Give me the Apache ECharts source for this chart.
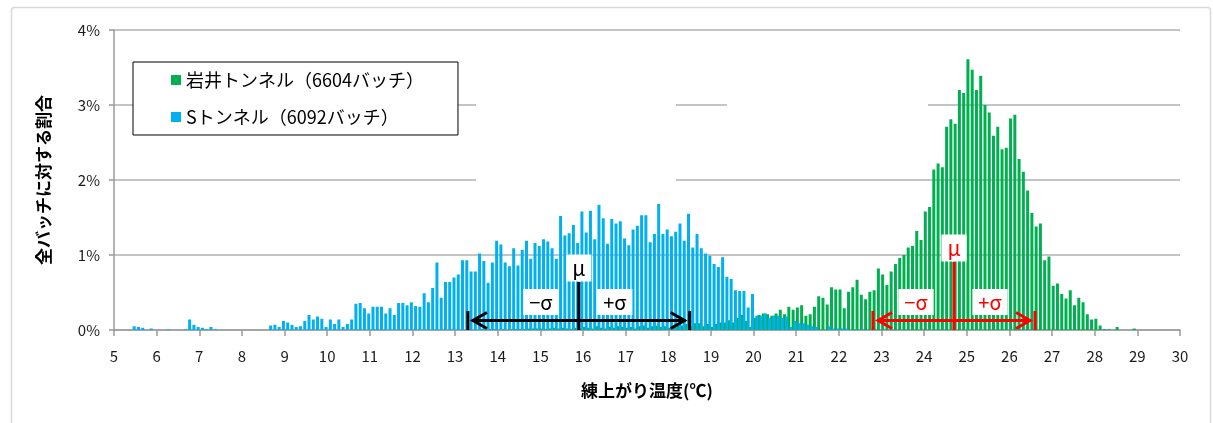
<!DOCTYPE html>
<html>
<head>
<meta charset="utf-8">
<script src="https://cdn.jsdelivr.net/npm/echarts@6/dist/echarts.min.js"></script>
<style>
  html, body { margin: 0; padding: 0; background: #fff; }
  #chart { width: 1213px; height: 423px; }
</style>
</head>
<body>
<div id="chart"></div>
<script>
// Histogram of mixing temperatures, 0.1 °C bins, share of all batches (%)
const sName = 'Sトンネル（6092バッチ）';
const iName = '岩井トンネル（6604バッチ）';

// S tunnel: consecutive 0.1 °C bins starting at 5.5 °C
const sFirstBin = 5.5;
const sShare = [
  0.05, 0.04, 0.03, 0, 0.02, 0, 0, 0, 0.01, 0,          // 5.5 - 6.4
  0, 0, 0.01, 0.14, 0.07, 0.04, 0.03, 0.01, 0.04, 0.01, // 6.5 - 7.4
  0, 0, 0, 0, 0, 0, 0, 0, 0, 0,                          // 7.5 - 8.4
  0, 0, 0.06, 0.07, 0.04, 0.12, 0.10, 0.07, 0.04, 0.05, // 8.5 - 9.4
  0.12, 0.20, 0.14, 0.18, 0.15, 0.04, 0.14, 0.08, 0.14, 0.04, // 9.5 - 10.4
  0.08, 0.14, 0.35, 0.36, 0.29, 0.22, 0.31, 0.31, 0.31, 0.22, // 10.5 - 11.4
  0.29, 0.20, 0.36, 0.36, 0.33, 0.37, 0.32, 0.31, 0.49, 0.37, // 11.5 - 12.4
  0.56, 0.90, 0.43, 0.64, 0.64, 0.70, 0.74, 0.93, 0.93, 0.78, // 12.5 - 13.4
  0.78, 1.02, 0.92, 0.63, 0.90, 1.19, 1.14, 0.90, 0.85, 1.09, // 13.5 - 14.4
  0.86, 1.07, 1.19, 0.95, 1.16, 1.12, 1.21, 1.18, 1.09, 0.95, // 14.5 - 15.4
  1.52, 1.26, 1.29, 1.40, 1.16, 1.58, 1.30, 1.59, 1.21, 1.67, // 15.5 - 16.4
  1.49, 1.15, 1.48, 1.42, 1.45, 1.22, 1.13, 1.34, 1.39, 1.53, // 16.5 - 17.4
  1.53, 1.17, 1.28, 1.68, 1.28, 1.34, 1.25, 1.31, 1.42, 1.19, // 17.5 - 18.4
  1.55, 1.10, 1.28, 1.09, 1.02, 0.99, 0.88, 0.84, 0.97, 0.71, // 18.5 - 19.4
  0.68, 0.53, 0.52, 0.52, 0.30, 0.48, 0.19, 0.19, 0.22, 0.16, // 19.5 - 20.4
  0.19, 0.19, 0.16, 0.18, 0.04, 0.12, 0.09, 0.09, 0.07, 0.05, // 20.5 - 21.4
  0.04, 0, 0, 0.05, 0.02, 0.02, 0.02, 0.02, 0, 0.01,          // 21.5 - 22.4
  0, 0.01                                                     // 22.5 - 22.6
];

// Iwai tunnel: consecutive 0.1 °C bins starting at 13.5 °C
const iFirstBin = 13.5;
const iShare = [
  0, 0.01, 0, 0.01, 0.01, 0, 0.01, 0, 0.01, 0.01,             // 13.5 - 14.4
  0.01, 0.01, 0.02, 0.02, 0.02, 0.02, 0.01, 0.02, 0.03, 0.02, // 14.5 - 15.4
  0.03, 0.02, 0.01, 0.03, 0.02, 0.04, 0.03, 0.02, 0.05, 0.03, // 15.5 - 16.4
  0.02, 0.04, 0.03, 0.05, 0.04, 0.03, 0.04, 0.02, 0.05, 0.06, // 16.5 - 17.4
  0.03, 0.05, 0.06, 0.04, 0.05, 0.03, 0.06, 0.07, 0.06, 0.08, // 17.5 - 18.4
  0.05, 0.09, 0.09, 0.05, 0.08, 0.04, 0.08, 0.10, 0.10, 0.13, // 18.5 - 19.4
  0.10, 0.16, 0.20, 0.12, 0.04, 0.16, 0.20, 0.22, 0.21, 0.19, // 19.5 - 20.4
  0.22, 0.27, 0.21, 0.31, 0.27, 0.30, 0.33, 0.19, 0.21, 0.31, // 20.5 - 21.4
  0.45, 0.43, 0.34, 0.57, 0.54, 0.54, 0.29, 0.51, 0.57, 0.67, // 21.5 - 22.4
  0.47, 0.41, 0.51, 0.53, 0.82, 0.74, 0.60, 0.78, 0.88, 0.96, // 22.5 - 23.4
  1.00, 1.10, 1.12, 1.32, 1.20, 1.58, 1.64, 2.14, 2.22, 2.17, // 23.5 - 24.4
  2.71, 2.81, 2.75, 3.20, 3.16, 3.61, 3.47, 3.20, 3.39, 3.00, // 24.5 - 25.4
  2.90, 2.59, 2.71, 2.41, 2.43, 2.82, 2.87, 2.28, 2.11, 1.86, // 25.5 - 26.4
  1.56, 1.38, 1.42, 0.93, 0.98, 0.59, 0.62, 0.48, 0.42, 0.53, // 26.5 - 27.4
  0.33, 0.43, 0.37, 0.21, 0.14, 0.15, 0.06, 0.01, 0.01, 0,    // 27.5 - 28.4
  0.04, 0, 0, 0, 0.02                                         // 28.5 - 28.9
];

// Summary statistics
const sMean = 15.9, sSd = 2.6, sWithin = 64.1;
const iMean = 24.7, iSd = 1.9, iWithin = 78.4;

// Axis ticks
const xTicks = { min: 5, max: 30, step: 1 };
const yTicks = { min: 0, max: 4, step: 1 };

const BLUE = '#00B0F0';
const GREEN = '#00B050';
const RED = '#FF0000';
const JP = '"Noto Sans CJK JP", "Noto Sans", sans-serif';

function toPairs(first, shares) {
  return shares.map((v, i) => [Math.round((first + i * 0.1) * 10) / 10, v]);
}

// μ line, ±σ double arrow and end bars, drawn in data coordinates
function sigmaMarker(mean, sd, color, muLen) {
  return {
    type: 'custom',
    coordinateSystem: 'cartesian2d',
    silent: true,
    z: 20,
    data: [[mean, sd]],
    renderItem(params, api) {
      const m = api.value(0), s = api.value(1);
      const pL = api.coord([m - s, 0]);
      const pM = api.coord([m, 0]);
      const pR = api.coord([m + s, 0]);
      const base = pM[1];
      const ay = base - 9.5;
      const st = { stroke: color, lineWidth: 3, fill: null };
      const muTop = base - muLen;
      const lbl = (x, y, text, size) => ({
        type: 'text',
        x: x, y: y,
        style: {
          text: text, fill: color, font: size + 'px ' + JP,
          align: 'center', verticalAlign: 'middle',
          backgroundColor: '#fff', padding: [3, 6, 3, 6]
        }
      });
      return {
        type: 'group',
        children: [
          { type: 'line', shape: { x1: pL[0] + 4, y1: ay, x2: pR[0] - 4, y2: ay }, style: st },
          { type: 'polyline', shape: { points: [[pL[0] + 19, ay - 8], [pL[0] + 5, ay], [pL[0] + 19, ay + 8]] }, style: st },
          { type: 'polyline', shape: { points: [[pR[0] - 19, ay - 8], [pR[0] - 5, ay], [pR[0] - 19, ay + 8]] }, style: st },
          { type: 'line', shape: { x1: pL[0], y1: base - 19, x2: pL[0], y2: base }, style: st },
          { type: 'line', shape: { x1: pR[0], y1: base - 19, x2: pR[0], y2: base }, style: st },
          { type: 'line', shape: { x1: pM[0], y1: muTop, x2: pM[0], y2: base }, style: st },
          lbl(pM[0], muTop - 14, 'μ', 21),
          lbl(pM[0] - 38, base - 28, '−σ', 20),
          lbl(pM[0] + 36, base - 28, '+σ', 20)
        ]
      };
    }
  };
}

function statsBlock(left, top, title, mean, sd, within, color, gaps) {
  const f = '19px ' + JP;
  const lines = [
    '平均μ  :' + mean.toFixed(1) + '℃',
    '標準偏差σ  :' + sd.toFixed(1) + '℃',
    'μ  ±σ  内に' + within.toFixed(1) + '%'
  ];
  return {
    type: 'group', left: left, top: top,
    children: [
      { type: 'text', x: 0, y: 0, style: { text: title, fill: color, font: f } },
      { type: 'text', x: 15, y: gaps[0], style: { text: lines[0], fill: color, font: f } },
      { type: 'text', x: 15, y: gaps[1], style: { text: lines[1], fill: color, font: f } },
      { type: 'text', x: 15, y: gaps[2], style: { text: lines[2], fill: color, font: f } }
    ]
  };
}

const chart = echarts.init(document.getElementById('chart'), null, { renderer: 'canvas' });

chart.setOption({
  animation: false,
  backgroundColor: '#fff',
  textStyle: { fontFamily: JP },
  grid: { left: 114, right: 33, top: 30, bottom: 93 },
  legend: {
    orient: 'vertical',
    left: 133, top: 62,
    data: [iName, sName],
    icon: 'rect',
    itemWidth: 10, itemHeight: 10, itemGap: 19,
    padding: [9, 34, 9, 38],
    backgroundColor: '#fff',
    borderColor: '#000', borderWidth: 1,
    textStyle: { fontSize: 18, color: '#000', fontFamily: JP },
    z: 30
  },
  xAxis: {
    type: 'value',
    min: xTicks.min, max: xTicks.max, interval: xTicks.step,
    name: '練上がり温度(℃)',
    nameLocation: 'middle', nameGap: 52,
    nameTextStyle: { fontSize: 17, fontWeight: 'bold', color: '#000', fontFamily: JP },
    axisLine: { lineStyle: { color: '#9a9a9a', width: 1.5 } },
    axisTick: { show: true, length: 6, lineStyle: { color: '#9a9a9a', width: 1.5 } },
    axisLabel: { fontSize: 15, color: '#1a1a1a', margin: 19 },
    splitLine: { show: false }
  },
  yAxis: {
    type: 'value',
    min: yTicks.min, max: yTicks.max, interval: yTicks.step,
    name: '全バッチに対する割合',
    nameLocation: 'middle', nameGap: 62,
    nameTextStyle: { fontSize: 17, fontWeight: 'bold', color: '#000', fontFamily: JP },
    axisLine: { show: true, lineStyle: { color: '#9a9a9a', width: 1.5 } },
    axisTick: { show: true, length: 5, lineStyle: { color: '#9a9a9a', width: 1.5 } },
    axisLabel: { fontSize: 15, color: '#1a1a1a', margin: 14, formatter: '{value}%' },
    splitLine: { show: true, lineStyle: { color: '#b0b0b0', width: 1.5 } }
  },
  graphic: [
    // chart frame
    { type: 'rect', left: 9, top: 5, shape: { width: 1199, height: 430, r: 3 },
      style: { fill: null, stroke: '#d9d9d9', lineWidth: 1.5 }, z: 0, silent: true },
    // white text panels
    { type: 'rect', left: 476, top: 68, shape: { width: 200, height: 118 }, style: { fill: '#fff' }, z: 25, silent: true },
    { type: 'rect', left: 727, top: 48, shape: { width: 201, height: 124 }, style: { fill: '#fff' }, z: 25, silent: true },
    Object.assign(statsBlock(477, 70, 'Sトンネル', sMean, sSd, sWithin, '#000', [29, 61, 91]), { z: 26 }),
    Object.assign(statsBlock(733, 52, '岩井トンネル', iMean, iSd, iWithin, RED, [33, 63, 93]), { z: 26 })
  ],
  series: [
    {
      name: sName, type: 'bar',
      data: toPairs(sFirstBin, sShare),
      barWidth: 3, barGap: '-25%',
      itemStyle: { color: BLUE },
      z: 3, silent: true
    },
    {
      name: iName, type: 'bar',
      data: toPairs(iFirstBin, iShare),
      barWidth: 3, barGap: '-25%',
      itemStyle: { color: GREEN },
      z: 2, silent: true
    },
    sigmaMarker(sMean, sSd, '#000', 48),
    sigmaMarker(iMean, iSd, RED, 68)
  ]
});
</script>
</body>
</html>
